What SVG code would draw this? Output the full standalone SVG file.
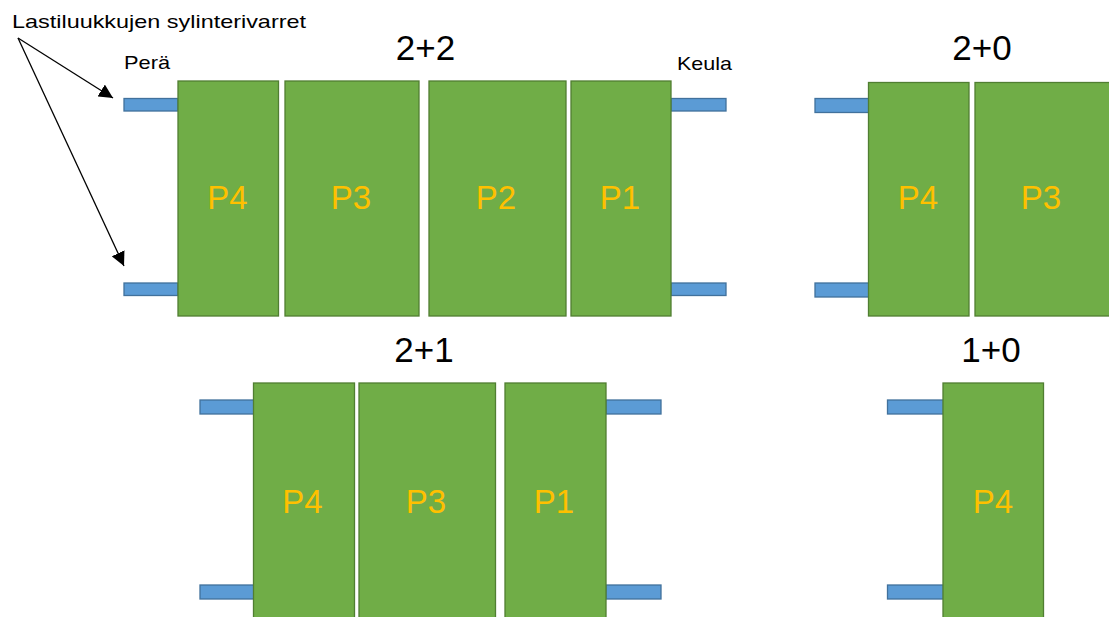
<svg xmlns="http://www.w3.org/2000/svg" width="1109" height="617" viewBox="0 0 1109 617">
<style>
.deck{fill:#70AD47;stroke:#507E32;stroke-width:1.3}
.arm{fill:#5B9BD5;stroke:#41719C;stroke-width:1.3}
.pl{font-family:"Liberation Sans",Arial,sans-serif;font-size:33px;fill:#FFC000;text-anchor:middle}
.ttl{font-family:"Liberation Sans",Arial,sans-serif;font-size:35px;fill:#000;text-anchor:middle}
.lbl{font-family:"Liberation Sans",Arial,sans-serif;font-size:19px;fill:#000}
</style>
<defs>
<marker id="ah" viewBox="0 0 10 10" refX="10" refY="5" markerWidth="14" markerHeight="14" markerUnits="userSpaceOnUse" orient="auto">
<path d="M0,0 L10,5 L0,10 z" fill="#000"/>
</marker>
</defs>
<rect width="1109" height="617" fill="#fff"/>

<g id="labels">
<text class="lbl" x="12" y="28" textLength="294" lengthAdjust="spacingAndGlyphs">Lastiluukkujen sylinterivarret</text>
<text class="lbl" x="124" y="69" textLength="46" lengthAdjust="spacingAndGlyphs">Perä</text>
<text class="lbl" x="677" y="70" textLength="55" lengthAdjust="spacingAndGlyphs">Keula</text>
</g>

<g id="connectors">
<line x1="18" y1="38" x2="113" y2="98" stroke="#000" stroke-width="1.3" marker-end="url(#ah)"/>
<line x1="18" y1="38" x2="124" y2="266" stroke="#000" stroke-width="1.3" marker-end="url(#ah)"/>
</g>

<g id="config-2plus2">
<text class="ttl" x="425.5" y="60">2+2</text>
<rect class="arm" x="124" y="98.5" width="54" height="12.5"/>
<rect class="arm" x="124" y="283" width="54" height="12.5"/>
<rect class="arm" x="671" y="98.5" width="55" height="12.5"/>
<rect class="arm" x="671" y="283" width="55" height="12.5"/>
<g id="t-P4"><rect class="deck" x="178" y="81" width="100.5" height="235"/><text class="pl" x="227.5" y="209">P4</text></g>
<g id="t-P3"><rect class="deck" x="285" y="81" width="134" height="235"/><text class="pl" x="351" y="209">P3</text></g>
<g id="t-P2"><rect class="deck" x="429" y="81" width="137" height="235"/><text class="pl" x="496" y="209">P2</text></g>
<g id="t-P1"><rect class="deck" x="571" y="81" width="100" height="235"/><text class="pl" x="620" y="209">P1</text></g>
</g>

<g id="config-2plus0">
<text class="ttl" x="982" y="60">2+0</text>
<rect class="arm" x="815" y="98.5" width="54" height="14"/>
<rect class="arm" x="815" y="283" width="54" height="14"/>
<g id="r-P4"><rect class="deck" x="868.5" y="82.5" width="100.5" height="233.5"/><text class="pl" x="918" y="209">P4</text></g>
<g id="r-P3"><rect class="deck" x="975" y="82.5" width="140" height="233.5"/><text class="pl" x="1041" y="209">P3</text></g>
</g>

<g id="config-2plus1">
<text class="ttl" x="424" y="362">2+1</text>
<rect class="arm" x="200" y="400" width="54" height="14"/>
<rect class="arm" x="200" y="585" width="54" height="14"/>
<rect class="arm" x="606" y="400" width="55" height="14"/>
<rect class="arm" x="606" y="585" width="55" height="14"/>
<g id="b-P4"><rect class="deck" x="253.5" y="383" width="101" height="240"/><text class="pl" x="302.5" y="513">P4</text></g>
<g id="b-P3"><rect class="deck" x="359" y="383" width="136.5" height="240"/><text class="pl" x="426" y="513">P3</text></g>
<g id="b-P1"><rect class="deck" x="505" y="383" width="101" height="240"/><text class="pl" x="554" y="513">P1</text></g>
</g>

<g id="config-1plus0">
<text class="ttl" x="991" y="362">1+0</text>
<rect class="arm" x="887.5" y="400" width="56" height="14"/>
<rect class="arm" x="887.5" y="585" width="56" height="14"/>
<g id="s-P4"><rect class="deck" x="943" y="383" width="100.5" height="240"/><text class="pl" x="993" y="513">P4</text></g>
</g>
</svg>
